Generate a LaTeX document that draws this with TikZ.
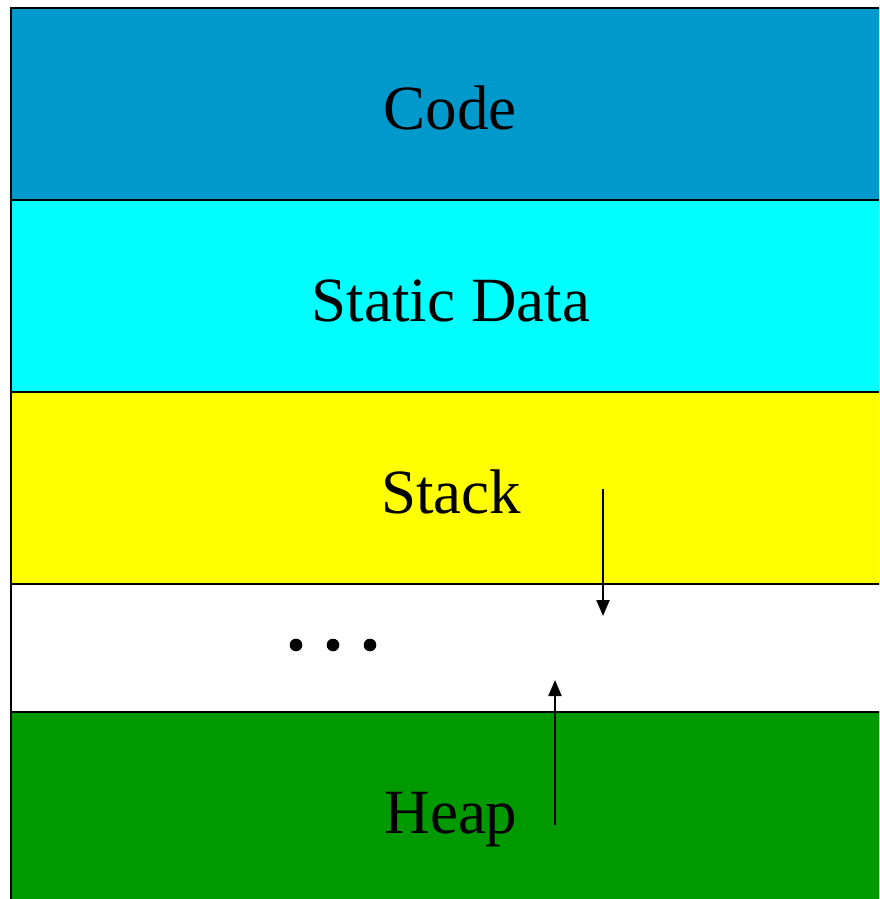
\documentclass[tikz,border=0pt]{standalone}
\usepackage{fontspec}
\setmainfont{Liberation Serif}
\usetikzlibrary{arrows.meta}
\definecolor{codeblue}{HTML}{0099CC}
\definecolor{datacyan}{HTML}{00FFFF}
\definecolor{stackyellow}{HTML}{FFFF00}
\definecolor{heapgreen}{HTML}{009900}
\begin{document}
\begin{tikzpicture}[x=1pt,y=-1pt,
  band/.style={draw=black,line width=2.2pt},
  seglabel/.style={anchor=base,font=\fontsize{63}{70}\selectfont,inner sep=0pt},
  growarrow/.style={line width=2.2pt,-{Triangle[length=16pt,width=13pt]}}]
\useasboundingbox (0,0) rectangle (879,899);
\begin{scope}
\clip (0,0) rectangle (879,899);
\fill[white] (0,0) rectangle (879,899);
\filldraw[band,fill=codeblue]    (11,8)   rectangle (900,200);
\filldraw[band,fill=datacyan]    (11,200) rectangle (900,392);
\filldraw[band,fill=stackyellow] (11,392) rectangle (900,584);
\filldraw[band,fill=white]       (11,584) rectangle (900,712);
\filldraw[band,fill=heapgreen]   (11,712) rectangle (900,920);
\end{scope}
\node[seglabel] (code)   at (450,129) {Code};
\node[seglabel] (static) at (451,321) {Static Data};
\node[seglabel] (stack)  at (451,513) {Stack};
\node[seglabel] (heap)   at (451,833) {Heap};
\coordinate (s0) at (603,489);
\coordinate (s1) at (603,616);
\coordinate (h0) at (555,825);
\coordinate (h1) at (555,680);
\draw[growarrow] (s0) -- (s1);
\draw[growarrow] (h0) -- (h1);
\foreach \x in {296,333,370} \fill (\x,645) circle (6.3);
\end{tikzpicture}
\end{document}
